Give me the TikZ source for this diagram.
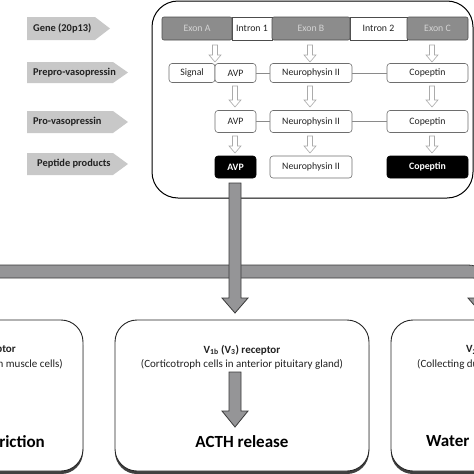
\documentclass[tikz,border=0pt]{standalone}
\usepackage{fontspec}
\setmainfont{Carlito}
\usetikzlibrary{shadows}
\definecolor{lblgray}{HTML}{C8C8C8}
\definecolor{exongray}{HTML}{8C8C8C}
\definecolor{exontxt}{HTML}{D4D4D4}
\definecolor{txtdark}{HTML}{222222}
\definecolor{boxline}{HTML}{6E6E6E}
\definecolor{conngray}{HTML}{8A8A8A}
\definecolor{holgray}{HTML}{ABABAB}
\definecolor{bargray}{HTML}{959597}
\definecolor{barline}{HTML}{3A3A3A}
\newcommand{\holarrow}[3]{%
  \draw[hol] (#1-2.5,#2) -- (#1+2.5,#2) -- (#1+2.5,#3-7) -- (#1+6,#3-7) -- (#1,#3) -- (#1-6,#3-7) -- (#1-2.5,#3-7) -- cycle;}
\begin{document}
\begin{tikzpicture}[x=1pt,y=-1pt,
  lblst/.style={fill=lblgray},
  lbltext/.style={font=\bfseries\fontsize{10.4}{12}\selectfont, text=txtdark, inner sep=0, anchor=west},
  seg/.style={draw=black!70, line width=.6pt, minimum height=23, inner sep=0, outer sep=0, font=\fontsize{9.8}{11}\selectfont},
  exonst/.style={seg, fill=exongray, text=exontxt, rounded corners=2},
  intronst/.style={seg, fill=white, text=txtdark},
  rowbox/.style={draw=boxline, line width=.6pt, rounded corners=3, fill=white, inner sep=0, outer sep=0, text=txtdark, font=\fontsize{9.8}{11}\selectfont},
  blackbox/.style={rowbox, fill=black, draw=black, text=white, font=\bfseries\fontsize{9.8}{11}\selectfont},
  conn/.style={draw=conngray, line width=.6pt},
  hol/.style={draw=holgray, fill=white, line width=.6pt},
  barst/.style={draw=barline, fill=bargray, line width=.8pt, line join=miter},
  panel/.style={draw=black, line width=1pt, rounded corners=26, inner sep=0},
  bottombox/.style={draw=black!85, line width=.9pt, rounded corners=22, fill=white, inner sep=0, minimum width=254, minimum height=151,
     drop shadow={shadow xshift=0pt, shadow yshift=-3pt, fill=black!75, opacity=1}},
  rectxt/.style={font=\bfseries\fontsize{11}{13}\selectfont, text=txtdark, inner sep=0},
  celltxt/.style={font=\fontsize{11}{13}\selectfont, text=txtdark, inner sep=0},
  effect/.style={font=\bfseries\fontsize{17}{20}\selectfont, text=black, inner sep=0},
]
\useasboundingbox (0,0) rectangle (474,474);
\clip (0,0) rectangle (474,474);

% left labels
\fill[lblst] (27,17) -- (95,17) -- (110,28.5) -- (95,40) -- (27,40) -- cycle;
\node[lbltext] (gene) at (33,28.5) {Gene (20p13)};
\fill[lblst] (27,62) -- (113,62) -- (128,72.5) -- (113,83) -- (27,83) -- cycle;
\node[lbltext] (prepro) at (33,72.5) {Prepro-vasopressin};
\fill[lblst] (27,111) -- (113,111) -- (128,122) -- (113,133) -- (27,133) -- cycle;
\node[lbltext] (pro) at (33,122) {Pro-vasopressin};
\fill[lblst] (27,153) -- (113,153) -- (128,164) -- (113,175) -- (27,175) -- cycle;
\node[lbltext] (pep) at (37,164) {Peptide products};

% panel
\node[panel, minimum width=321, minimum height=197] (panelbox) at (312.5,99.5) {};

% gene bar
\node[intronst, minimum width=40] (in1) at (252,28.5) {Intron 1};
\node[intronst, minimum width=57] (in2) at (378.5,28.5) {Intron 2};
\node[exonst, minimum width=70] (exA) at (197,28.5) {Exon A};
\node[exonst, minimum width=78] (exB) at (311,28.5) {Exon B};
\node[exonst, minimum width=61] (exC) at (437.5,28.5) {Exon C};

% hollow arrows
\holarrow{215}{45}{62}
\holarrow{310}{45}{62}
\holarrow{432}{45}{62}
\holarrow{235}{86}{107}
\holarrow{310}{86}{107}
\holarrow{432}{86}{107}
\holarrow{235}{136}{153}
\holarrow{310}{136}{153}
\holarrow{432}{136}{153}

% row 2
\node[rowbox, minimum width=46, minimum height=19] (sig) at (192,73) {Signal};
\node[rowbox, minimum width=41, minimum height=19] (avpA) at (235.5,73) {AVP};
\node[rowbox, minimum width=82, minimum height=19] (npA) at (311,73) {Neurophysin II};
\node[rowbox, minimum width=81, minimum height=19] (copA) at (427.5,73) {Copeptin};
\draw[conn] (avpA) -- (npA);
\draw[conn] (npA) -- (copA);

% row 3
\node[rowbox, minimum width=41, minimum height=22] (avpB) at (235.5,121.5) {AVP};
\node[rowbox, minimum width=82, minimum height=22] (npB) at (311,121.5) {Neurophysin II};
\node[rowbox, minimum width=81, minimum height=22] (copB) at (427.5,121.5) {Copeptin};
\draw[conn] (avpB) -- (npB);
\draw[conn] (npB) -- (copB);

% row 4
\node[blackbox, minimum width=41, minimum height=22] (avpC) at (235.5,167) {AVP};
\node[rowbox, minimum width=82, minimum height=22] (npC) at (311,167) {Neurophysin II};
\node[blackbox, minimum width=81, minimum height=22] (copC) at (427.5,167) {Copeptin};

% bottom boxes
\node[bottombox] (boxL) at (-44,395.5) {};
\node[bottombox] (boxM) at (242,395.5) {};
\node[bottombox] (boxR) at (518,395.5) {};

% distribution bars
\draw[barst] (-10,265) -- (468,265) .. controls (479,265) and (487,272) .. (487,283) -- (487,298) -- (494,298) -- (481,313) -- (468,298) -- (475,298) -- (475,280) -- (474,278) -- (-10,278) -- cycle;
\draw[barst] (229,183) -- (241,183) -- (241,298) -- (248,298) -- (235,313) -- (222,298) -- (229,298) -- cycle;

% left box text
\node[rectxt, anchor=east] (recL) at (16,350) {V\textsubscript{1a} receptor};
\node[celltxt, anchor=east] (cellL) at (63,364) {(Vascular smooth muscle cells)};
\node[effect, anchor=east] (effL) at (45,442) {Vasoconstriction};

% middle box text
\node[rectxt] (recM) at (242,350) {V\textsubscript{1b} (V\textsubscript{3}) receptor};
\node[celltxt] (cellM) at (242,364.5) {(Corticotroph cells in anterior pituitary gland)};
\node[effect] (effM) at (242,442) {ACTH release};
\draw[barst] (229,372) -- (241,372) -- (241,411) -- (248,411) -- (235,427) -- (222,411) -- (229,411) -- cycle;

% right box text
\node[rectxt, anchor=west] (recR) at (466,350) {V\textsubscript{2} receptor};
\node[celltxt, anchor=west] (cellR) at (417,364.5) {(Collecting duct cells)};
\node[effect, anchor=west] (effR) at (426,442) {Water reabsorption};
\end{tikzpicture}
\end{document}
